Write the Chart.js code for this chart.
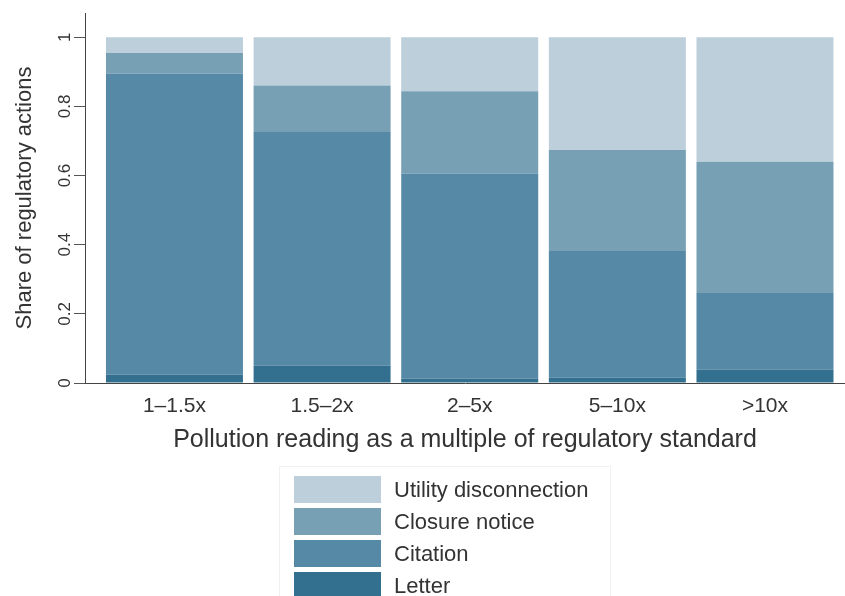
<!DOCTYPE html>
<html>
<head>
<meta charset="utf-8">
<script src="https://cdn.jsdelivr.net/npm/chart.js@4"></script>
<style>
  html, body { margin: 0; padding: 0; background: #ffffff; }
  #wrap { width: 845px; height: 596px; position: relative; }
</style>
</head>
<body>
<div id="wrap"><canvas id="c"></canvas></div>
<script>
// ---- Data ----
const categories = ['1\u20131.5x', '1.5\u20132x', '2\u20135x', '5\u201310x', '>10x'];
const letter   = [0.024, 0.050, 0.012, 0.016, 0.038];
const citation = [0.870, 0.678, 0.594, 0.368, 0.222];
const closure  = [0.060, 0.132, 0.238, 0.290, 0.380];
const utility  = [0.046, 0.140, 0.156, 0.326, 0.360];
const yTicks = [0, 0.2, 0.4, 0.6, 0.8, 1];
const seriesNames = ['Letter', 'Citation', 'Closure notice', 'Utility disconnection'];

const colors = ['#33708f', '#5689a6', '#77a0b5', '#bccfdb'];
const textColor = '#333333';
const FONT = "'Liberation Sans', Arial, Helvetica, sans-serif";

function toPoints(arr) { return arr.map((v, i) => ({ x: i + 1, y: v })); }

const datasets = [letter, citation, closure, utility].map((arr, k) => ({
  label: seriesNames[k],
  data: toPoints(arr),
  backgroundColor: colors[k],
  borderWidth: 0,
  categoryPercentage: 1,
  barPercentage: 0.928
}));

// Custom vertical legend (listed top series first), drawn below the axis title
const stackedLegend = {
  id: 'stackedLegend',
  afterDraw(chart) {
    const ctx = chart.ctx;
    const x0 = 294, y0 = 476, boxW = 87, boxH = 27, step = 32, gap = 13;
    ctx.save();
    ctx.strokeStyle = '#f1f1f1';
    ctx.lineWidth = 1;
    ctx.strokeRect(279.5, 466.5, 331, 135);
    ctx.font = '22px ' + FONT;
    ctx.textBaseline = 'middle';
    ctx.textAlign = 'left';
    const ds = chart.data.datasets.slice().reverse();
    ds.forEach((d, i) => {
      const y = y0 + i * step;
      ctx.fillStyle = d.backgroundColor;
      ctx.fillRect(x0, y, boxW, boxH);
      ctx.fillStyle = textColor;
      ctx.fillText(d.label, x0 + boxW + gap, y + boxH / 2 + 1);
    });
    ctx.restore();
  }
};

new Chart(document.getElementById('c'), {
  type: 'bar',
  data: { datasets },
  plugins: [stackedLegend],
  options: {
    responsive: true,
    maintainAspectRatio: false,
    animation: false,
    layout: { padding: { top: 13, right: 0, bottom: 140, left: 0 } },
    plugins: {
      legend: { display: false },
      tooltip: { enabled: false }
    },
    scales: {
      x: {
        type: 'linear',
        stacked: true,
        offset: false,
        min: 0.394,
        max: 5.542,
        afterBuildTicks(axis) { axis.ticks = categories.map((c, i) => ({ value: i + 1 })); },
        afterFit(scale) { scale.height = 73; },
        grid: { display: false, drawTicks: false, offset: false },
        border: { display: true, color: '#444444', width: 1 },
        ticks: {
          color: textColor,
          font: { family: FONT, size: 21 },
          padding: 11,
          maxRotation: 0,
          autoSkip: false,
          callback: (v) => categories[Math.round(v) - 1]
        },
        title: {
          display: true,
          text: 'Pollution reading as a multiple of regulatory standard',
          color: textColor,
          font: { family: FONT, size: 25 },
          padding: { top: 2, bottom: 1 }
        }
      },
      y: {
        stacked: true,
        min: 0,
        max: 1.07,
        afterBuildTicks(axis) { axis.ticks = yTicks.map(v => ({ value: v })); },
        afterFit(scale) { scale.width = 85; },
        grid: { display: true, drawOnChartArea: false, drawTicks: true, tickLength: 11, color: '#555555' },
        border: { display: true, color: '#444444', width: 1 },
        ticks: {
          color: textColor,
          font: { family: FONT, size: 17 },
          minRotation: 90,
          maxRotation: 90,
          crossAlign: 'center',
          padding: -3,
          callback: (v) => String(v)
        },
        title: {
          display: true,
          text: 'Share of regulatory actions',
          color: textColor,
          font: { family: FONT, size: 22 },
          padding: { top: 12, bottom: 0 }
        }
      }
    }
  }
});
</script>
</body>
</html>
